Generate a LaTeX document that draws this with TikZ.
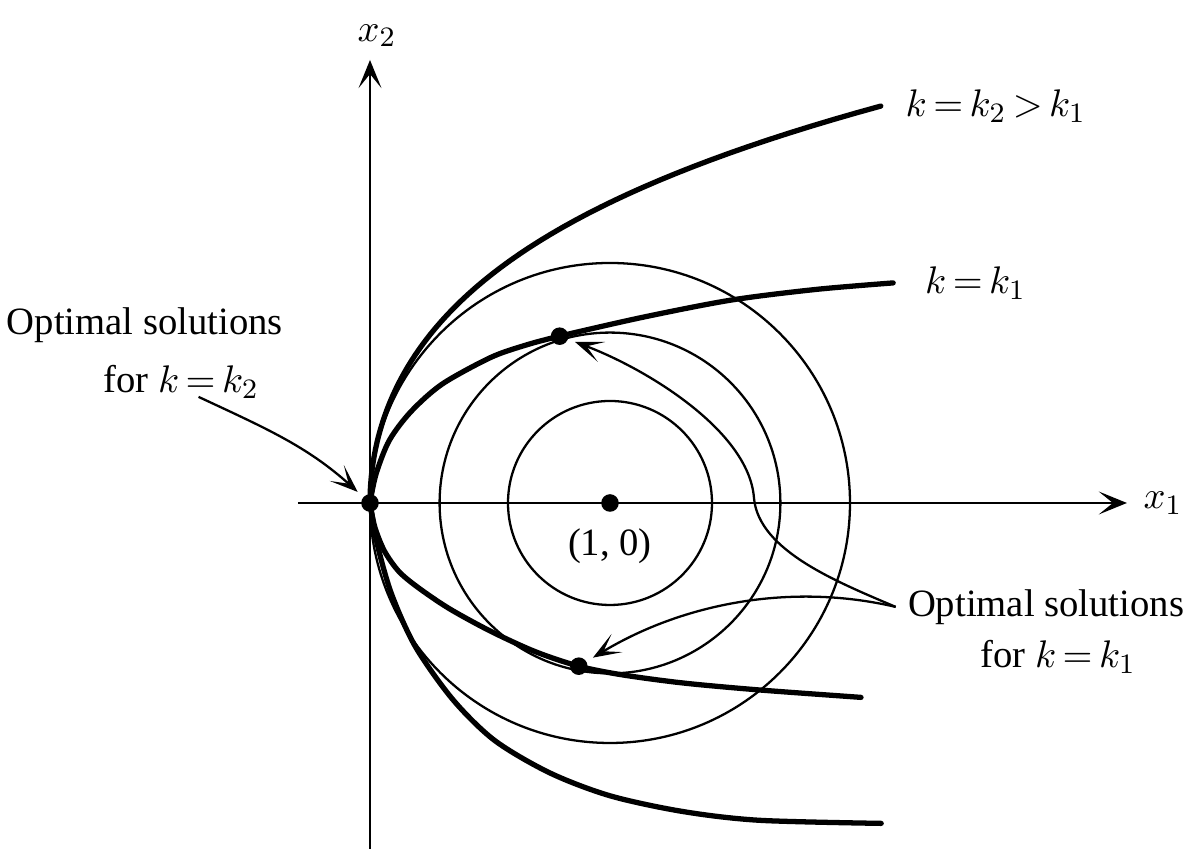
\documentclass[tikz,border=0pt]{standalone}
\usepackage{fontspec}
\setmainfont{Liberation Serif}
\usetikzlibrary{arrows.meta,positioning}

\begin{document}
\begin{tikzpicture}[x=2.4cm, y=2.4cm,
  every node/.style={font=\fontsize{11}{13}\selectfont},
  axis/.style={line width=0.8pt, -{Stealth[length=8pt,width=6.5pt,inset=4pt]}},
  curve/.style={line width=1.5pt, line cap=round},
  ring/.style={line width=0.65pt},
  dot/.style={circle, fill=black, inner sep=0pt, minimum size=5pt},
  pointer/.style={line width=0.65pt, shorten >=2pt, -{Stealth[length=8pt,width=6pt,inset=4.5pt]}}]
  \useasboundingbox (-1.5417,-1.4458) rectangle (3.4042,2.0958);

  % level curves for k = k2 and k = k1
  \draw[curve] plot[domain=0:1.654, samples=60] ({0.45*\x*\x+0.12*\x^4}, \x)
    node[right=3pt] (labK2) {$k\,{=}\,k_2\,{>}\,k_1$};
  \draw[curve] plot[smooth] coordinates {(0,0) (0.03,-0.17) (0.09,-0.38) (0.19,-0.6) (0.346,-0.82)
    (0.52,-0.99) (0.75,-1.125) (1.0,-1.22) (1.3,-1.285) (1.62,-1.322) (2.13,-1.335)};
  \draw[curve] plot[smooth] coordinates {(0,0) (0.025,0.12) (0.08,0.26) (0.17,0.38) (0.3,0.495)
    (0.5,0.605) (0.64,0.655) (0.79,0.695) (1.142,0.775) (1.508,0.846) (1.86,0.89) (2.18,0.917)}
    node[right=5pt] (labK1) {$k\,{=}\,k_1$};
  \draw[curve] plot[smooth] coordinates {(0,0) (0.02,-0.1) (0.06,-0.2) (0.12,-0.285) (0.2,-0.352)
    (0.33,-0.44) (0.504,-0.535) (0.69,-0.62) (0.87,-0.68) (1.05,-0.716) (1.304,-0.75)
    (1.621,-0.779) (2.046,-0.81)};

  % objective contours round (1,0)
  \coordinate (c10) at (1,0);
  \foreach \r in {0.425,0.71,1}{
    \draw[ring] (c10) circle (\r);
  }

  % axes
  \coordinate (xs) at (-0.3,0);
  \coordinate (xe) at (3.154,0);
  \coordinate (ys) at (0,-1.44);
  \coordinate (ye) at (0,1.846);
  \draw[axis] (xs) -- (xe) node[right=1pt] (labX1) {$x_1$};
  \draw[axis] (ys) -- (ye) node[above=0pt, xshift=2pt] (labX2) {$x_2$};

  % optimal points
  \node[dot] (orig) at (0,0) {};
  \node[dot] (ctr) at (c10) {};
  \node[dot] (upA) at (0.79,0.695) {};
  \node[dot] (lowA) at (0.87,-0.68) {};
  \node[below=1pt of ctr] (ctrLab) {(1, 0)};

  % labels and pointers
  \node (optL) at (-0.938,0.742) {Optimal solutions};
  \node (forL) at (-0.7875,0.504) {for $k\,{=}\,k_2$};
  \node (optR) at (2.817,-0.433) {Optimal solutions};
  \node (forR) at (2.867,-0.642) {for $k\,{=}\,k_1$};

  \draw[pointer] ([xshift=5pt,yshift=4pt]forL.south) to[out=-25,in=138] (orig);
  \draw[pointer] (optR.west) .. controls (1.95,-0.33) and (1.62,-0.2) .. (1.6,0.02)
    .. controls (1.58,0.3) and (1.15,0.56) .. (upA);
  \draw[pointer] (optR.west) .. controls (1.75,-0.33) and (1.3,-0.42) .. (lowA);
\end{tikzpicture}
\end{document}
